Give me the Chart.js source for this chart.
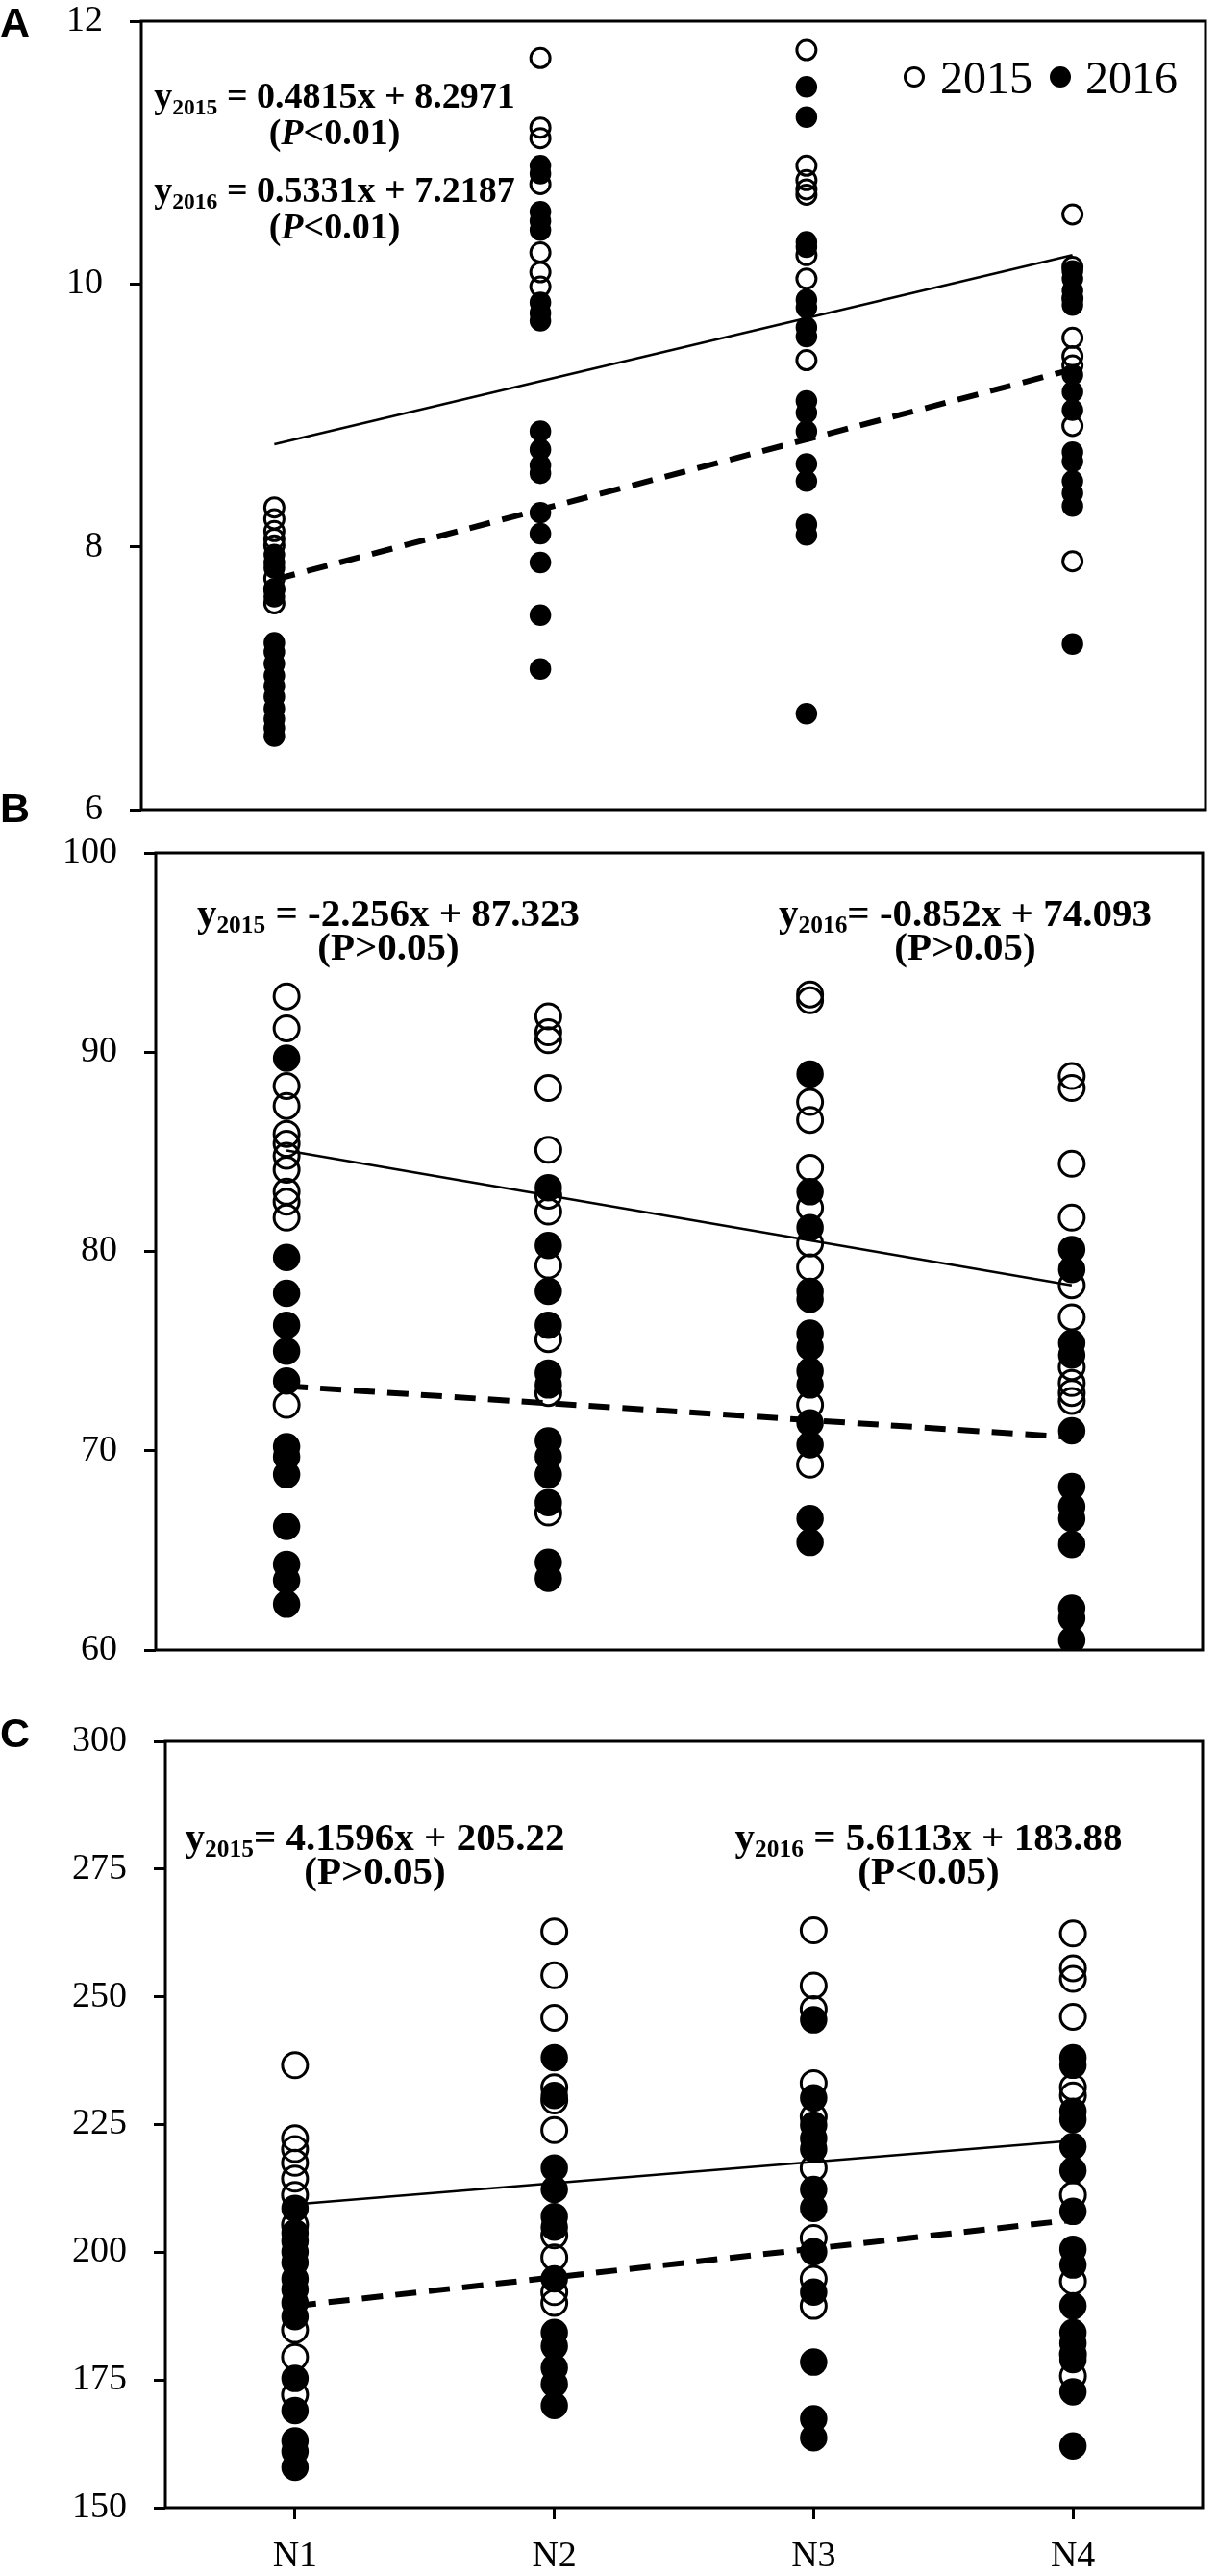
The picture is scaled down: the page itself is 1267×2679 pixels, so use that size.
<!DOCTYPE html>
<html>
<head>
<meta charset="utf-8">
<script src="https://cdn.jsdelivr.net/npm/chart.js@4.4.1/dist/chart.umd.min.js"></script>
<style>
  body { margin: 0; background: #fff; }
  #wrap { position: relative; width: 1267px; height: 2679px; background: #fff; overflow: hidden; }
  canvas { position: absolute; left: 0; }
  .eq { position: absolute; font-family: "Liberation Serif", "DejaVu Serif", serif; font-weight: bold;
        font-size: 41px; line-height: 35px; text-align: center; color: #000; white-space: nowrap; }
  .eq sub { font-size: 0.62em; line-height: 0; vertical-align: -0.28em; }
  .tag { position: absolute; left: 0; font-family: "Liberation Sans", Arial, sans-serif; font-weight: bold;
         font-size: 43px; line-height: 43px; color: #000; }
  .legtxt { position: absolute; top: 57px; font-family: "Liberation Serif", serif; font-size: 48px;
            line-height: 48px; color: #000; }
  .dot { position: absolute; top: 69px; width: 16px; height: 16px; border: 3px solid #000; border-radius: 50%; }
  .dot.full { background: #000; }
</style>
</head>
<body>
<div id="wrap">
  <canvas id="chartA" width="1267" height="870" style="top:0px"></canvas>
  <canvas id="chartB" width="1267" height="880" style="top:860px"></canvas>
  <canvas id="chartC" width="1267" height="899" style="top:1780px"></canvas>

  <div class="tag" style="top:2px">A</div>
  <div class="tag" style="top:819px">B</div>
  <div class="tag" style="top:1781px">C</div>

  <span class="dot" style="left:940px"></span><span class="legtxt" style="left:978px">2015</span>
  <span class="dot full" style="left:1092px"></span><span class="legtxt" style="left:1129px">2016</span>

  <div class="eq" style="left:98px;width:500px;top:80px;font-size:38px;line-height:38px">y<sub>2015</sub> = 0.4815x + 8.2971<br>(<i>P</i>&lt;0.01)</div>
  <div class="eq" style="left:98px;width:500px;top:178px;font-size:38px;line-height:38px">y<sub>2016</sub> = 0.5331x + 7.2187<br>(<i>P</i>&lt;0.01)</div>

  <div class="eq" style="left:154px;width:500px;top:932px">y<sub>2015</sub> = -2.256x + 87.323<br>(P&gt;0.05)</div>
  <div class="eq" style="left:754px;width:500px;top:932px">y<sub>2016</sub>= -0.852x + 74.093<br>(P&gt;0.05)</div>

  <div class="eq" style="left:140px;width:500px;top:1893px">y<sub>2015</sub>= 4.1596x + 205.22<br>(P&gt;0.05)</div>
  <div class="eq" style="left:716px;width:500px;top:1893px">y<sub>2016</sub> = 5.6113x + 183.88<br>(P&lt;0.05)</div>
</div>

<script>
// categories on the x axis (positions 1..4)
const categories = ['N1', 'N2', 'N3', 'N4'];
const catPos = [1, 2, 3, 4];

// panel A : values per category, 2015 (open) and 2016 (filled)
const a2015 = [
    [8.30, 8.21, 8.12, 8.06, 8.01, 7.76, 7.68, 7.57],
    [11.72, 11.19, 11.11, 10.76, 10.24, 10.09, 9.98],
    [11.78, 10.90, 10.79, 10.72, 10.68, 10.22, 10.04, 9.42],
    [10.53, 10.13, 9.89, 9.59, 9.45, 9.38, 8.92, 7.89]
];
const a2016 = [
    [7.94, 7.88, 7.84, 7.67, 7.62, 7.27, 7.20, 7.11, 7.02, 6.94, 6.86, 6.77, 6.69, 6.62, 6.56],
    [10.90, 10.84, 10.55, 10.48, 10.41, 9.86, 9.78, 9.72, 8.88, 8.74, 8.62, 8.56, 8.26, 8.10, 7.88, 7.48, 7.07],
    [11.50, 11.27, 10.32, 10.28, 9.88, 9.82, 9.67, 9.60, 9.11, 9.02, 8.88, 8.63, 8.50, 8.17, 8.09, 6.73],
    [10.10, 10.04, 9.95, 9.84, 9.31, 9.18, 9.04, 8.72, 8.65, 8.50, 8.41, 8.31, 7.26]
];
const fitA2015 = [8.78, 10.22];
const fitA2016 = [7.75, 9.35];
const ticksA = [6, 8, 10, 12];

// panel B
const b2015 = [
    [92.8, 91.2, 88.3, 87.3, 85.9, 85.4, 84.8, 84.1, 83.0, 82.5, 81.7, 72.3],
    [91.8, 91.0, 90.6, 88.2, 85.1, 82.8, 82.0, 79.3, 75.6, 72.9, 66.9],
    [92.9, 92.6, 87.5, 86.6, 84.2, 82.2, 80.4, 79.2, 72.3, 69.3],
    [88.8, 88.2, 84.4, 81.7, 78.3, 76.7, 74.2, 73.4, 72.9, 72.5]
];
const b2016 = [
    [89.7, 79.7, 77.9, 76.3, 75.0, 73.5, 70.2, 69.7, 68.8, 66.2, 64.3, 63.5, 62.3],
    [83.2, 80.3, 78.0, 76.3, 73.9, 73.3, 70.5, 69.7, 68.8, 67.4, 64.4, 63.6],
    [88.9, 83.0, 81.2, 78.0, 77.6, 75.9, 75.2, 74.0, 73.3, 71.4, 70.3, 66.6, 65.4],
    [80.1, 79.1, 75.4, 74.8, 71.0, 68.2, 67.2, 66.6, 65.3, 62.1, 61.6, 60.5]
];
const fitB2015 = [85.07, 78.30];
const fitB2016 = [73.24, 70.68];
const ticksB = [60, 70, 80, 90, 100];

// panel C
const c2015 = [
    [236.6, 222.3, 220.2, 217.5, 214.4, 211.2, 205.4, 184.8, 179.5, 172.1],
    [262.8, 254.2, 245.9, 232.3, 229.7, 223.9, 203.3, 199.0, 192.2, 190.1],
    [263.0, 252.2, 247.6, 233.1, 226.5, 216.5, 202.8, 194.8, 189.5],
    [262.4, 255.6, 253.5, 246.1, 232.3, 230.7, 211.2, 194.3, 180.0, 175.8]
];
const c2016 = [
    [208.6, 203.8, 202.2, 200.1, 198.0, 194.8, 192.7, 190.1, 187.4, 175.3, 169.0, 163.1, 161.0, 157.9],
    [238.1, 230.7, 216.5, 212.3, 207.0, 204.9, 194.8, 184.3, 181.6, 177.4, 174.2, 170.0],
    [245.5, 230.2, 224.9, 222.3, 220.2, 212.3, 208.6, 200.1, 192.2, 178.5, 167.4, 163.7],
    [238.1, 236.6, 227.6, 226.0, 220.7, 216.0, 208.0, 200.6, 197.5, 189.5, 184.3, 182.2, 179.0, 172.7, 162.1]
];
const fitC2015 = [209.38, 221.86];
const fitC2016 = [189.49, 206.33];
const ticksC = [150, 175, 200, 225, 250, 275, 300];

const serif = '"Liberation Serif", "DejaVu Serif", serif';

function toPoints(groups) {
    const pts = [];
    groups.forEach((vals, i) => {
        vals.forEach(v => pts.push({x: catPos[i], y: v}));
    });
    return pts;
}

// frame around the plot area
const framePlugin = {
    id: 'frame',
    afterDatasetsDraw(chart) {
        const a = chart.chartArea;
        const ctx = chart.ctx;
        ctx.save();
        ctx.strokeStyle = '#000';
        ctx.lineWidth = 3;
        ctx.strokeRect(a.left, a.top, a.right - a.left, a.bottom - a.top);
        ctx.restore();
    }
};

function makePanel(id, p) {
    const ctx = document.getElementById(id).getContext('2d');
    return new Chart(ctx, {
        type: 'scatter',
        data: {
            datasets: [
                {
                    type: 'line', data: [{x: 1, y: p.fit2015[0]}, {x: 4, y: p.fit2015[1]}],
                    borderColor: '#000', borderWidth: 2.5, pointRadius: 0, fill: false, order: 1
                },
                {
                    type: 'line', data: [{x: 1, y: p.fit2016[0]}, {x: 4, y: p.fit2016[1]}],
                    borderColor: '#000', borderWidth: 6, borderDash: [22, 13], pointRadius: 0, fill: false, order: 2
                },
                {
                    label: '2016', data: toPoints(p.y2016), pointStyle: 'circle',
                    pointRadius: p.r, backgroundColor: '#000', borderColor: '#000', borderWidth: 2.5, order: 3
                },
                {
                    label: '2015', data: toPoints(p.y2015), pointStyle: 'circle',
                    pointRadius: p.r, backgroundColor: 'rgba(0,0,0,0)', borderColor: '#000', borderWidth: 3, order: 4
                }
            ]
        },
        options: {
            responsive: false,
            animation: false,
            devicePixelRatio: 1,
            layout: {padding: p.pad},
            plugins: {legend: {display: false}, tooltip: {enabled: false}},
            scales: {
                x: {
                    type: 'linear', min: 0.5, max: 4.5,
                    display: p.showX,
                    afterBuildTicks: s => { s.ticks = catPos.map(v => ({value: v})); },
                    afterFit: s => {
                        s.height = p.showX ? 71 : 0;
                        s.paddingLeft = 0; s.paddingRight = 0;
                    },
                    border: {display: false},
                    grid: {drawOnChartArea: false, drawTicks: true, tickLength: 12, tickWidth: 3, tickColor: '#000'},
                    ticks: {
                        color: '#000', padding: 16, maxRotation: 0,
                        font: {family: serif, size: 38},
                        callback: v => categories[catPos.indexOf(v)] || ''
                    }
                },
                y: {
                    min: p.ticks[0], max: p.ticks[p.ticks.length - 1],
                    afterBuildTicks: s => { s.ticks = p.ticks.map(v => ({value: v})); },
                    afterFit: s => {
                        s.width = p.left;
                        s.paddingTop = 0; s.paddingBottom = 0;
                    },
                    border: {display: false},
                    grid: {drawOnChartArea: false, drawTicks: true, tickLength: 12, tickWidth: 3, tickColor: '#000'},
                    ticks: {color: '#000', padding: 28, font: {family: serif, size: 38}}
                }
            }
        },
        plugins: [framePlugin]
    });
}

makePanel('chartA', {
    y2015: a2015, y2016: a2016, fit2015: fitA2015, fit2016: fitA2016, ticks: ticksA,
    r: 10, left: 147, showX: false, pad: {top: 22, right: 3, bottom: 28, left: 0}
});
makePanel('chartB', {
    y2015: b2015, y2016: b2016, fit2015: fitB2015, fit2016: fitB2016, ticks: ticksB,
    r: 13, left: 162, showX: false, pad: {top: 27, right: 5, bottom: 24, left: 0}
});
makePanel('chartC', {
    y2015: c2015, y2016: c2016, fit2015: fitC2015, fit2016: fitC2016, ticks: ticksC,
    r: 13, left: 172, showX: true, pad: {top: 31, right: 5, bottom: 0, left: 0}
});
</script>
</body>
</html>
